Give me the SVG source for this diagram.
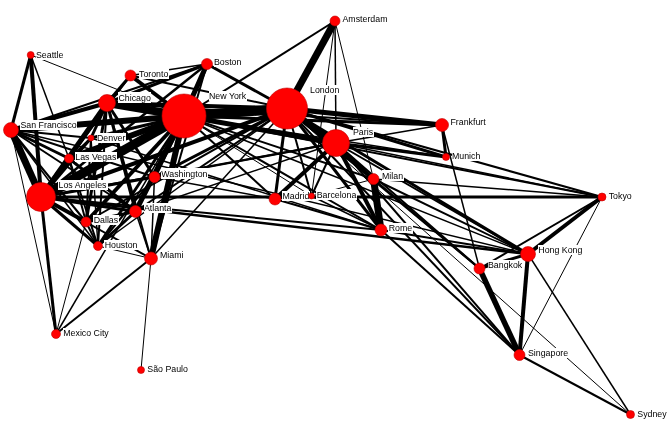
<svg xmlns="http://www.w3.org/2000/svg" width="669" height="435" viewBox="0 0 669 435">
<style>
.e line{stroke:#000;stroke-linecap:butt}
.n circle{fill:#ff0000;stroke:#c00000;stroke-width:0.6}
.n text{font-family:"Liberation Sans",Arial,sans-serif;font-size:8.8px;fill:#000;filter:url(#lb)}
</style>
<defs>
<filter id="lb" x="0" y="0" width="1" height="1" color-interpolation-filters="sRGB"><feFlood flood-color="#ffffff"/><feComposite in="SourceGraphic" operator="over"/></filter>
</defs>
<rect width="669" height="435" fill="#fff"/>
<g id="connectors" class="e">
<!-- Seattle -->
<line x1="30.7" y1="55" x2="11" y2="130" stroke-width="3"/>
<line x1="30.7" y1="55" x2="41" y2="197" stroke-width="4"/>
<line x1="30.7" y1="55" x2="69" y2="158.5" stroke-width="1.5"/>
<line x1="30.7" y1="55" x2="184" y2="116" stroke-width="1"/>
<!-- San Francisco -->
<line x1="11" y1="130" x2="41" y2="197" stroke-width="7"/>
<line x1="11" y1="130" x2="69" y2="158.5" stroke-width="3"/>
<line x1="11" y1="130" x2="184" y2="116" stroke-width="6"/>
<line x1="11" y1="130" x2="107" y2="103" stroke-width="4"/>
<line x1="11" y1="130" x2="91" y2="138" stroke-width="2"/>
<line x1="11" y1="130" x2="154.5" y2="177" stroke-width="2"/>
<line x1="11" y1="130" x2="135.5" y2="211.5" stroke-width="2"/>
<line x1="11" y1="130" x2="86" y2="222" stroke-width="2"/>
<line x1="11" y1="130" x2="98" y2="246" stroke-width="1.5"/>
<line x1="11" y1="130" x2="207" y2="64" stroke-width="2"/>
<line x1="11" y1="130" x2="287" y2="108.5" stroke-width="3"/>
<line x1="11" y1="130" x2="56" y2="334" stroke-width="1"/>
<line x1="11" y1="130" x2="528" y2="254" stroke-width="1.5"/>
<!-- Los Angeles -->
<line x1="41" y1="197" x2="184" y2="116" stroke-width="9"/>
<line x1="41" y1="197" x2="107" y2="103" stroke-width="5"/>
<line x1="41" y1="197" x2="69" y2="158.5" stroke-width="5"/>
<line x1="41" y1="197" x2="91" y2="138" stroke-width="3"/>
<line x1="41" y1="197" x2="86" y2="222" stroke-width="4"/>
<line x1="41" y1="197" x2="98" y2="246" stroke-width="3"/>
<line x1="41" y1="197" x2="135.5" y2="211.5" stroke-width="3"/>
<line x1="41" y1="197" x2="154.5" y2="177" stroke-width="3"/>
<line x1="41" y1="197" x2="207" y2="64" stroke-width="2.5"/>
<line x1="41" y1="197" x2="151" y2="258.5" stroke-width="2"/>
<line x1="41" y1="197" x2="56" y2="334" stroke-width="3"/>
<line x1="41" y1="197" x2="287" y2="108.5" stroke-width="4"/>
<line x1="41" y1="197" x2="602" y2="197" stroke-width="3"/>
<line x1="41" y1="197" x2="336" y2="143" stroke-width="2"/>
<line x1="41" y1="197" x2="528" y2="254" stroke-width="2.5"/>
<line x1="41" y1="197" x2="381" y2="230" stroke-width="2"/>
<line x1="41" y1="197" x2="130.5" y2="75.5" stroke-width="1.5"/>
<!-- Chicago -->
<line x1="107" y1="103" x2="184" y2="116" stroke-width="8"/>
<line x1="107" y1="103" x2="130.5" y2="75.5" stroke-width="3"/>
<line x1="107" y1="103" x2="207" y2="64" stroke-width="3"/>
<line x1="107" y1="103" x2="154.5" y2="177" stroke-width="3"/>
<line x1="107" y1="103" x2="135.5" y2="211.5" stroke-width="3"/>
<line x1="107" y1="103" x2="86" y2="222" stroke-width="3"/>
<line x1="107" y1="103" x2="98" y2="246" stroke-width="2"/>
<line x1="107" y1="103" x2="91" y2="138" stroke-width="3"/>
<line x1="107" y1="103" x2="69" y2="158.5" stroke-width="3"/>
<line x1="107" y1="103" x2="151" y2="258.5" stroke-width="2"/>
<line x1="107" y1="103" x2="287" y2="108.5" stroke-width="4"/>
<line x1="107" y1="103" x2="336" y2="143" stroke-width="2"/>
<line x1="107" y1="103" x2="442" y2="125" stroke-width="2"/>
<!-- New York -->
<line x1="184" y1="116" x2="207" y2="64" stroke-width="5"/>
<line x1="184" y1="116" x2="130.5" y2="75.5" stroke-width="4"/>
<line x1="184" y1="116" x2="154.5" y2="177" stroke-width="4"/>
<line x1="184" y1="116" x2="135.5" y2="211.5" stroke-width="5"/>
<line x1="184" y1="116" x2="151" y2="258.5" stroke-width="6"/>
<line x1="184" y1="116" x2="86" y2="222" stroke-width="4"/>
<line x1="184" y1="116" x2="98" y2="246" stroke-width="3"/>
<line x1="184" y1="116" x2="69" y2="158.5" stroke-width="6"/>
<line x1="184" y1="116" x2="91" y2="138" stroke-width="3"/>
<line x1="184" y1="116" x2="287" y2="108.5" stroke-width="10"/>
<line x1="184" y1="116" x2="336" y2="143" stroke-width="5"/>
<line x1="184" y1="116" x2="442" y2="125" stroke-width="3"/>
<line x1="184" y1="116" x2="446" y2="157" stroke-width="1.5"/>
<line x1="184" y1="116" x2="381" y2="230" stroke-width="2"/>
<line x1="184" y1="116" x2="373.5" y2="179" stroke-width="2"/>
<line x1="184" y1="116" x2="275" y2="199" stroke-width="2"/>
<line x1="184" y1="116" x2="311.5" y2="196" stroke-width="1"/>
<line x1="184" y1="116" x2="335" y2="21" stroke-width="2"/>
<line x1="184" y1="116" x2="602" y2="197" stroke-width="2"/>
<line x1="184" y1="116" x2="528" y2="254" stroke-width="1.5"/>
<line x1="184" y1="116" x2="56" y2="334" stroke-width="1.5"/>
<!-- Boston / Toronto / Washington -->
<line x1="207" y1="64" x2="130.5" y2="75.5" stroke-width="1.5"/>
<line x1="207" y1="64" x2="287" y2="108.5" stroke-width="3"/>
<line x1="207" y1="64" x2="135.5" y2="211.5" stroke-width="2"/>
<line x1="207" y1="64" x2="151" y2="258.5" stroke-width="2"/>
<line x1="130.5" y1="75.5" x2="287" y2="108.5" stroke-width="2"/>
<line x1="154.5" y1="177" x2="135.5" y2="211.5" stroke-width="1.5"/>
<line x1="154.5" y1="177" x2="151" y2="258.5" stroke-width="1.5"/>
<line x1="154.5" y1="177" x2="287" y2="108.5" stroke-width="3"/>
<line x1="154.5" y1="177" x2="336" y2="143" stroke-width="2"/>
<line x1="154.5" y1="177" x2="275" y2="199" stroke-width="1.5"/>
<!-- Atlanta / Dallas / Houston / Miami / Denver / Las Vegas -->
<line x1="135.5" y1="211.5" x2="151" y2="258.5" stroke-width="1.5"/>
<line x1="135.5" y1="211.5" x2="86" y2="222" stroke-width="3"/>
<line x1="135.5" y1="211.5" x2="98" y2="246" stroke-width="3"/>
<line x1="135.5" y1="211.5" x2="287" y2="108.5" stroke-width="2"/>
<line x1="135.5" y1="211.5" x2="336" y2="143" stroke-width="1.5"/>
<line x1="135.5" y1="211.5" x2="69" y2="158.5" stroke-width="3"/>
<line x1="86" y1="222" x2="98" y2="246" stroke-width="2"/>
<line x1="86" y1="222" x2="69" y2="158.5" stroke-width="2"/>
<line x1="86" y1="222" x2="91" y2="138" stroke-width="2"/>
<line x1="86" y1="222" x2="56" y2="334" stroke-width="1"/>
<line x1="86" y1="222" x2="287" y2="108.5" stroke-width="2"/>
<line x1="98" y1="246" x2="151" y2="258.5" stroke-width="1"/>
<line x1="98" y1="246" x2="69" y2="158.5" stroke-width="2"/>
<line x1="98" y1="246" x2="287" y2="108.5" stroke-width="1.5"/>
<line x1="98" y1="246" x2="154.5" y2="177" stroke-width="2"/>
<line x1="151" y1="258.5" x2="56" y2="334" stroke-width="2"/>
<line x1="151" y1="258.5" x2="141" y2="370" stroke-width="1"/>
<line x1="151" y1="258.5" x2="287" y2="108.5" stroke-width="1.5"/>
<line x1="91" y1="138" x2="69" y2="158.5" stroke-width="2"/>
<line x1="91" y1="138" x2="98" y2="246" stroke-width="1.5"/>
<line x1="91" y1="138" x2="381" y2="230" stroke-width="1.5"/>
<!-- Europe -->
<line x1="287" y1="108.5" x2="335" y2="21" stroke-width="7"/>
<line x1="287" y1="108.5" x2="336" y2="143" stroke-width="6"/>
<line x1="287" y1="108.5" x2="442" y2="125" stroke-width="5"/>
<line x1="287" y1="108.5" x2="446" y2="157" stroke-width="3"/>
<line x1="287" y1="108.5" x2="275" y2="199" stroke-width="3"/>
<line x1="287" y1="108.5" x2="311.5" y2="196" stroke-width="2"/>
<line x1="287" y1="108.5" x2="373.5" y2="179" stroke-width="3"/>
<line x1="287" y1="108.5" x2="381" y2="230" stroke-width="3"/>
<line x1="287" y1="108.5" x2="602" y2="197" stroke-width="2"/>
<line x1="287" y1="108.5" x2="528" y2="254" stroke-width="3"/>
<line x1="287" y1="108.5" x2="519.5" y2="355" stroke-width="2"/>
<line x1="287" y1="108.5" x2="479.5" y2="268.5" stroke-width="2"/>
<line x1="287" y1="108.5" x2="630.5" y2="414.5" stroke-width="1"/>
<line x1="335" y1="21" x2="336" y2="143" stroke-width="1.5"/>
<line x1="335" y1="21" x2="311.5" y2="196" stroke-width="1"/>
<line x1="335" y1="21" x2="373.5" y2="179" stroke-width="1"/>
<line x1="336" y1="143" x2="442" y2="125" stroke-width="1.5"/>
<line x1="336" y1="143" x2="446" y2="157" stroke-width="3"/>
<line x1="336" y1="143" x2="275" y2="199" stroke-width="4"/>
<line x1="336" y1="143" x2="311.5" y2="196" stroke-width="2"/>
<line x1="336" y1="143" x2="373.5" y2="179" stroke-width="3"/>
<line x1="336" y1="143" x2="381" y2="230" stroke-width="4"/>
<line x1="336" y1="143" x2="528" y2="254" stroke-width="2"/>
<line x1="336" y1="143" x2="602" y2="197" stroke-width="1.5"/>
<line x1="336" y1="143" x2="519.5" y2="355" stroke-width="2"/>
<line x1="336" y1="143" x2="479.5" y2="268.5" stroke-width="2"/>
<line x1="442" y1="125" x2="446" y2="157" stroke-width="3"/>
<line x1="442" y1="125" x2="479.5" y2="268.5" stroke-width="1.5"/>
<line x1="373.5" y1="179" x2="381" y2="230" stroke-width="7"/>
<line x1="373.5" y1="179" x2="528" y2="254" stroke-width="2"/>
<line x1="373.5" y1="179" x2="479.5" y2="268.5" stroke-width="2"/>
<line x1="373.5" y1="179" x2="602" y2="197" stroke-width="1.5"/>
<line x1="275" y1="199" x2="381" y2="230" stroke-width="2"/>
<line x1="275" y1="199" x2="311.5" y2="196" stroke-width="1"/>
<line x1="311.5" y1="196" x2="381" y2="230" stroke-width="1.5"/>
<line x1="311.5" y1="196" x2="373.5" y2="179" stroke-width="1"/>
<line x1="381" y1="230" x2="528" y2="254" stroke-width="2"/>
<line x1="381" y1="230" x2="519.5" y2="355" stroke-width="2"/>
<!-- Asia / Pacific -->
<line x1="528" y1="254" x2="602" y2="197" stroke-width="4"/>
<line x1="528" y1="254" x2="519.5" y2="355" stroke-width="4"/>
<line x1="528" y1="254" x2="479.5" y2="268.5" stroke-width="3"/>
<line x1="528" y1="254" x2="630.5" y2="414.5" stroke-width="1.5"/>
<line x1="479.5" y1="268.5" x2="519.5" y2="355" stroke-width="5.5"/>
<line x1="479.5" y1="268.5" x2="602" y2="197" stroke-width="2"/>
<line x1="519.5" y1="355" x2="602" y2="197" stroke-width="1"/>
<line x1="519.5" y1="355" x2="630.5" y2="414.5" stroke-width="2"/>
</g>
<g id="node-seattle" class="n"><circle cx="30.7" cy="55" r="3.5"/><text x="36" y="58">Seattle</text></g>
<g id="node-toronto" class="n"><circle cx="130.5" cy="75.5" r="5.5"/><text x="139" y="76.5">Toronto</text></g>
<g id="node-boston" class="n"><circle cx="207" cy="64" r="5.5"/><text x="214" y="65">Boston</text></g>
<g id="node-amsterdam" class="n"><circle cx="335" cy="21" r="5"/><text x="342.5" y="22">Amsterdam</text></g>
<g id="node-chicago" class="n"><circle cx="107" cy="103" r="8.5"/><text x="118.5" y="100.5">Chicago</text></g>
<g id="node-newyork" class="n"><circle cx="184" cy="116" r="22"/><text x="209" y="99">New York</text></g>
<g id="node-london" class="n"><circle cx="287" cy="108.5" r="20.5"/><text x="310" y="93">London</text></g>
<g id="node-sanfrancisco" class="n"><circle cx="11" cy="130" r="7.5"/><text x="20.5" y="128">San Francisco</text></g>
<g id="node-denver" class="n"><circle cx="91" cy="138" r="3"/><text x="97" y="141">Denver</text></g>
<g id="node-lasvegas" class="n"><circle cx="69" cy="158.5" r="4.5"/><text x="75.3" y="160">Las Vegas</text></g>
<g id="node-paris" class="n"><circle cx="336" cy="143" r="13.5"/><text x="353" y="135">Paris</text></g>
<g id="node-frankfurt" class="n"><circle cx="442" cy="125" r="6.5"/><text x="450.5" y="125">Frankfurt</text></g>
<g id="node-munich" class="n"><circle cx="446" cy="157" r="3.5"/><text x="452" y="159">Munich</text></g>
<g id="node-losangeles" class="n"><circle cx="41" cy="197" r="14.5"/><text x="58.5" y="188">Los Angeles</text></g>
<g id="node-washington" class="n"><circle cx="154.5" cy="177" r="5.5"/><text x="161.3" y="176.5">Washington</text></g>
<g id="node-milan" class="n"><circle cx="373.5" cy="179" r="5.5"/><text x="382" y="178.5">Milan</text></g>
<g id="node-madrid" class="n"><circle cx="275" cy="199" r="6"/><text x="282.5" y="199">Madrid</text></g>
<g id="node-barcelona" class="n"><circle cx="311.5" cy="196" r="3"/><text x="316.7" y="197.5">Barcelona</text></g>
<g id="node-tokyo" class="n"><circle cx="602" cy="197" r="4"/><text x="608.7" y="199">Tokyo</text></g>
<g id="node-atlanta" class="n"><circle cx="135.5" cy="211.5" r="6"/><text x="144" y="211">Atlanta</text></g>
<g id="node-dallas" class="n"><circle cx="86" cy="222" r="5"/><text x="93.7" y="223">Dallas</text></g>
<g id="node-houston" class="n"><circle cx="98" cy="246" r="4.5"/><text x="104.7" y="248">Houston</text></g>
<g id="node-miami" class="n"><circle cx="151" cy="258.5" r="6.5"/><text x="160" y="258">Miami</text></g>
<g id="node-rome" class="n"><circle cx="381" cy="230" r="6"/><text x="388.7" y="231">Rome</text></g>
<g id="node-hongkong" class="n"><circle cx="528" cy="254" r="7.5"/><text x="538.3" y="253">Hong Kong</text></g>
<g id="node-bangkok" class="n"><circle cx="479.5" cy="268.5" r="5.5"/><text x="488" y="268">Bangkok</text></g>
<g id="node-singapore" class="n"><circle cx="519.5" cy="355" r="5.5"/><text x="528" y="356">Singapore</text></g>
<g id="node-sydney" class="n"><circle cx="630.5" cy="414.5" r="4"/><text x="637.3" y="417">Sydney</text></g>
<g id="node-mexicocity" class="n"><circle cx="56" cy="334" r="4.5"/><text x="63.3" y="336">Mexico City</text></g>
<g id="node-saopaulo" class="n"><circle cx="141" cy="370" r="3.5"/><text x="147.3" y="372">São Paulo</text></g>
</svg>
